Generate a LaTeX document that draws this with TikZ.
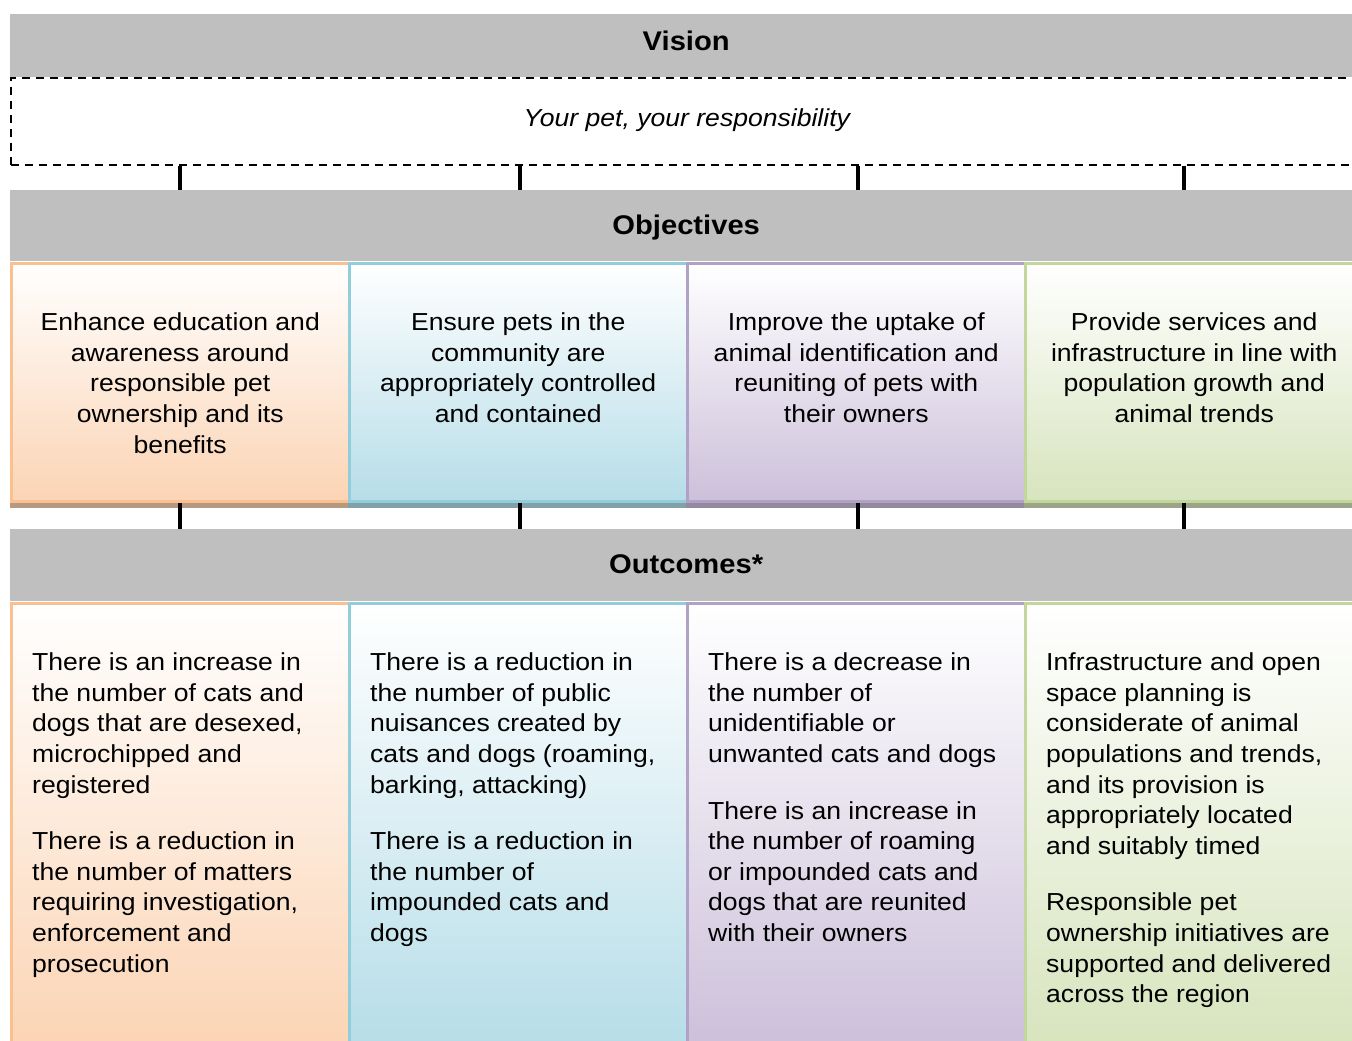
\documentclass[tikz,border=0pt]{standalone}
\usepackage{fontspec}
\setmainfont{Liberation Sans}[FakeStretch=1.08]
\usetikzlibrary{calc}

\definecolor{barGrey}{HTML}{BFBFBF}
\definecolor{orangeLine}{HTML}{FAC090}
\definecolor{orangeFill}{HTML}{FBD4B4}
\definecolor{blueLine}{HTML}{92CDDC}
\definecolor{blueFill}{HTML}{B6DDE8}
\definecolor{purpleLine}{HTML}{B2A1C7}
\definecolor{purpleFill}{HTML}{CCC0DA}
\definecolor{greenLine}{HTML}{C3D69B}
\definecolor{greenFill}{HTML}{D7E4BD}

\tikzset{
  bar/.style={fill=barGrey,minimum width=1352pt,inner sep=0pt,text depth=0pt,anchor=north west,font=\fontsize{27}{32}\selectfont\bfseries},
  colbox/.style={draw=#1Line,line width=2.5pt,top color=white,bottom color=#1Fill,minimum width=338pt,inner sep=0pt,anchor=north west},
  objtext/.style={anchor=north,align=center,inner sep=0pt,font=\fontsize{24.6}{30.6}\selectfont},
  outtext/.style={anchor=north west,align=left,inner sep=0pt,font=\fontsize{24.6}{30.6}\selectfont},
  link/.style={line width=4pt,black}
}

\begin{document}
\begin{tikzpicture}[x=1pt,y=-1pt]
\useasboundingbox (0,0) rectangle (1352,1041);
\clip (0,0) rectangle (1352,1041);

\coordinate (dx) at (338,0);
\coordinate (c0) at (10,0);
\coordinate (c1) at ($(c0)+(dx)$);
\coordinate (c2) at ($(c1)+(dx)$);
\coordinate (c3) at ($(c2)+(dx)$);
\coordinate (k1) at (180,0);
\coordinate (k2) at (520,0);
\coordinate (k3) at (858,0);
\coordinate (k4) at (1184,0);

\node[bar,minimum height=63pt,text height=9pt] (visbar) at ($(c0)+(0,14)$) {Vision};
\node[draw,line width=1.6pt,dash pattern=on 8pt off 6pt,minimum width=1352pt,minimum height=87pt,inner sep=0pt,anchor=north west,text height=11pt,text depth=0pt,font=\fontsize{24.6}{30.6}\selectfont\itshape] (vision) at ($(c0)+(0,77)$) {Your pet, your responsibility};

\node[bar,minimum height=71pt,text height=18pt] (objbar) at ($(c0)+(0,190)$) {Objectives};

\node[colbox=orange,minimum height=238pt] (objA) at ($(c0)+(0,262)$) {};
\node[colbox=blue,minimum height=238pt] (objB) at ($(c1)+(0,262)$) {};
\node[colbox=purple,minimum height=238pt] (objC) at ($(c2)+(0,262)$) {};
\node[colbox=green,minimum height=238pt] (objD) at ($(c3)+(0,262)$) {};

\fill[orangeFill!72!black] (objA.south west) rectangle ($(objA.south east)+(0,5)$);
\fill[blueFill!72!black] (objB.south west) rectangle ($(objB.south east)+(0,5)$);
\fill[purpleFill!72!black] (objC.south west) rectangle ($(objC.south east)+(0,5)$);
\fill[greenFill!72!black] (objD.south west) rectangle ($(objD.south east)+(0,5)$);

\node[objtext] (objAtext) at ($(objA.north)+(0,47)$) {\strut Enhance education and\\awareness around\\responsible pet\\ownership and its\\benefits};
\node[objtext] (objBtext) at ($(objB.north)+(0,47)$) {\strut Ensure pets in the\\community are\\appropriately controlled\\and contained};
\node[objtext] (objCtext) at ($(objC.north)+(0,47)$) {\strut Improve the uptake of\\animal identification and\\reuniting of pets with\\their owners};
\node[objtext] (objDtext) at ($(objD.north)+(0,47)$) {\strut Provide services and\\infrastructure in line with\\population growth and\\animal trends};

\node[bar,minimum height=72pt,text height=17pt] (outbar) at ($(c0)+(0,529)$) {Outcomes*};

\node[colbox=orange,minimum height=444pt] (outA) at ($(c0)+(0,602)$) {};
\node[colbox=blue,minimum height=444pt] (outB) at ($(c1)+(0,602)$) {};
\node[colbox=purple,minimum height=444pt] (outC) at ($(c2)+(0,602)$) {};
\node[colbox=green,minimum height=444pt] (outD) at ($(c3)+(0,602)$) {};

\node[outtext] (outAtext) at ($(outA.north west)+(22,47)$) {\strut There is an increase in\\the number of cats and\\dogs that are desexed,\\microchipped and\\registered\\[26pt]There is a reduction in\\the number of matters\\requiring investigation,\\enforcement and\\prosecution};
\node[outtext] (outBtext) at ($(outB.north west)+(22,47)$) {\strut There is a reduction in\\the number of public\\nuisances created by\\cats and dogs (roaming,\\barking, attacking)\\[26pt]There is a reduction in\\the number of\\impounded cats and\\dogs};
\node[outtext] (outCtext) at ($(outC.north west)+(22,47)$) {\strut There is a decrease in\\the number of\\unidentifiable or\\unwanted cats and dogs\\[26pt]There is an increase in\\the number of roaming\\or impounded cats and\\dogs that are reunited\\with their owners};
\node[outtext] (outDtext) at ($(outD.north west)+(22,47)$) {\strut Infrastructure and open\\space planning is\\considerate of animal\\populations and trends,\\and its provision is\\appropriately located\\and suitably timed\\[26pt]Responsible pet\\ownership initiatives are\\supported and delivered\\across the region};

\draw[link] (vision.south -| k1) -- (objbar.north -| k1);
\draw[link] (vision.south -| k2) -- (objbar.north -| k2);
\draw[link] (vision.south -| k3) -- (objbar.north -| k3);
\draw[link] (vision.south -| k4) -- (objbar.north -| k4);

\draw[link] (objA.south -| k1) -- (outbar.north -| k1);
\draw[link] (objB.south -| k2) -- (outbar.north -| k2);
\draw[link] (objC.south -| k3) -- (outbar.north -| k3);
\draw[link] (objD.south -| k4) -- (outbar.north -| k4);

\end{tikzpicture}
\end{document}
